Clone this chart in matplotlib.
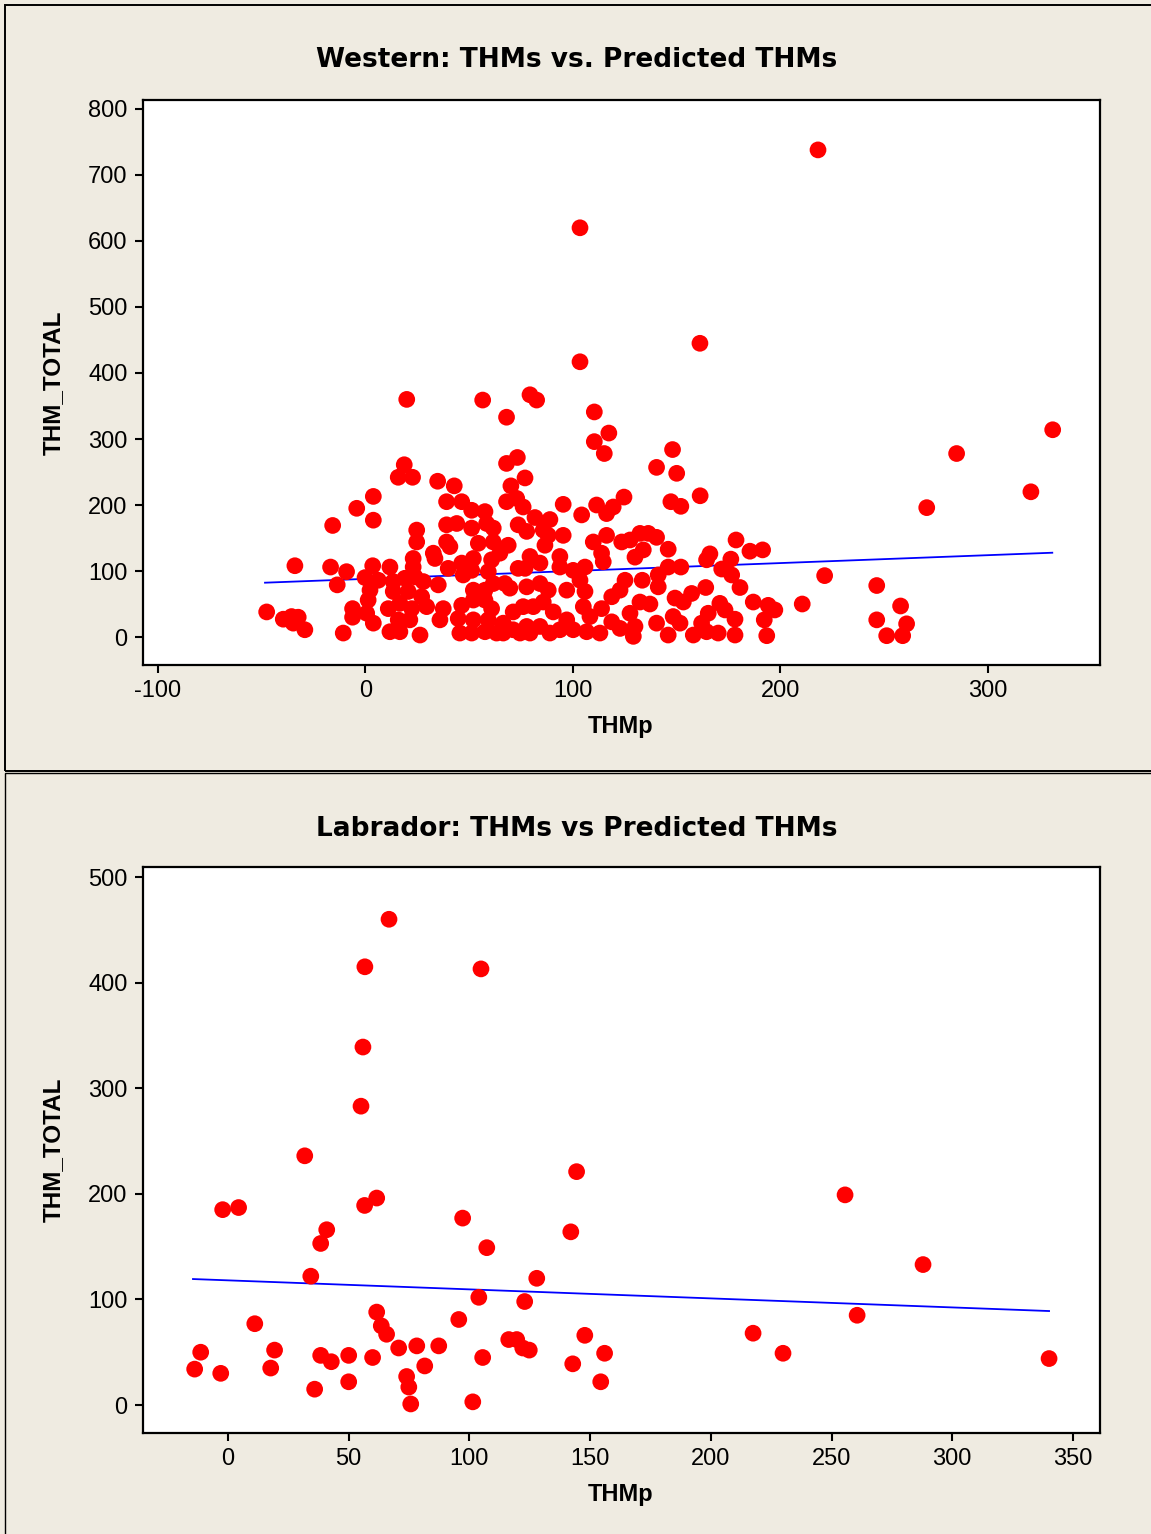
import matplotlib
matplotlib.use("Agg")
import matplotlib.pyplot as plt
from matplotlib.patches import Rectangle
import numpy as np

plt.rcParams["axes.unicode_minus"] = False

# ---------------- Western data ----------------
west_x = [218.1,103.4,103.4,161.2,331.2,284.9,320.7,270.5,19.9,56.5,79.3,82.5,68.0,110.3,117.3,110.3,115.1,148.0,
          140.3,150.0,161.3,147.2,152.0,221.3,246.4,246.4,257.9,260.8,251.2,258.9,210.5,194.1,197.3,192.2,193.4,186.9,185.3,191.4,
          68.0,73.2,76.9,18.7,15.8,22.7,34.8,42.8,70.1,
          3.8,-4.2,3.8,-15.8,-34.0,-16.8,-9.1,-13.6,3.5,-0.2,6.2,2.2,1.3,-47.6,-39.6,-35.6,-32.4,-34.8,-29.2,-10.7,-6.2,-6.2,0.6,3.8,
          39.1,46.4,51.2,57.6,24.7,24.7,39.1,44.0,51.2,58.4,61.6,54.4,61.6,39.1,40.7,32.7,33.5,23.0,23.0,11.8,
          39.9,46.4,52.0,51.2,47.1,60.8,59.2,13.4,19.0,23.9,27.9,35.1,13.4,20.6,27.1,52.0,57.6,61.6,11.0,16.6,
          22.3,29.5,37.5,46.4,52.0,57.6,60.8,15.8,21.4,35.9,44.7,52.0,59.2,11.8,16.6,26.3,45.5,51.2,57.6,63.2,
          68.0,72.9,76.0,95.3,111.4,119.4,124.6,104.2,81.7,88.9,73.6,77.7,85.7,88.1,95.3,109.8,116.2,123.5,68.8,86.5,
          113.8,114.6,93.7,79.3,84.1,64.8,73.6,76.9,93.7,100.1,105.8,67.2,69.6,77.7,84.1,88.1,97.0,103.4,105.8,118.7,
          122.7,125.1,71.2,76.0,80.9,85.7,90.5,97.0,105.0,108.2,113.8,118.7,122.7,66.4,71.2,77.7,84.1,88.9,93.7,100.1,
          106.6,113.0,66.4,74.5,79.3,116.2,
          132.3,136.3,140.3,127.5,133.9,129.9,145.9,178.6,166.0,164.4,176.1,145.9,152.0,171.7,176.5,180.5,133.4,141.1,141.1,164.0,
          157.2,149.2,153.2,132.3,137.1,127.5,170.8,173.3,165.2,178.1,148.3,151.6,140.3,162.0,164.4,170.0,145.9,158.0,178.1,129.9,
          129.1]
west_y = [738,620,417,445,314,278,220,196,360,359,367,359,333,341,309,296,278,284,
          257,248,214,205,198,93,78,26,47,20,2,2,50,48,41,26,2,53,130,132,
          263,272,241,261,242,242,236,229,229,
          213,195,177,169,108,106,99,79,108,90,86,71,56,38,27,31,30,21,11,6,43,30,36,21,
          205,205,192,190,162,144,170,172,165,172,165,142,144,144,137,127,119,119,106,106,
          104,112,119,101,94,117,99,84,89,91,84,79,69,69,61,71,71,81,43,51,
          43,46,43,48,56,56,43,26,26,26,28,26,26,8,8,3,6,6,8,6,
          205,210,197,201,200,197,212,185,181,178,170,160,162,154,154,144,154,144,139,139,
          127,114,122,122,112,127,104,104,106,101,106,81,74,76,81,71,71,86,69,61,
          71,86,38,46,46,53,38,26,46,31,43,23,13,21,11,16,16,6,11,11,
          8,6,6,6,6,187,
          157,157,151,147,132,121,133,147,126,117,118,106,106,103,94,75,86,94,76,75,
          66,59,53,53,50,36,51,41,36,27,31,21,21,21,8,6,3,3,3,16,
          1]
west_fit_x = [-48.4, 331.0]
west_fit_y = [82.3, 127.7]

# ---------------- Labrador data ----------------
lab_x = [-13.8,-11.3,-3.0,-2.2,4.4,11.1,17.7,19.3,31.8,34.3,35.9,38.4,38.4,40.9,42.8,50.0,50.0,55.1,55.9,56.7,
         56.6,61.6,59.9,61.6,63.5,65.7,66.7,70.7,74.0,74.9,75.7,78.2,81.5,87.3,95.6,97.2,101.4,103.9,104.8,105.5,
         107.2,116.3,119.6,122.1,122.9,124.8,127.9,142.0,142.8,144.4,147.8,154.4,156.0,217.5,229.9,255.6,260.6,287.9,340.1]
lab_y = [34,50,30,185,187,77,35,52,236,122,15,47,153,166,41,47,22,283,339,415,
         189,196,45,88,75,67,460,54,27,17,1,56,37,56,81,177,3,102,413,45,
         149,62,62,54,98,52,120,164,39,221,66,22,49,68,49,199,85,133,44]
lab_fit_x = [-14.5, 340.1]
lab_fit_y = [119.3, 89.0]

west_xticks = [-100, 0, 100, 200, 300]
west_yticks = [0, 100, 200, 300, 400, 500, 600, 700, 800]
lab_xticks = [0, 50, 100, 150, 200, 250, 300, 350]
lab_yticks = [0, 100, 200, 300, 400, 500]

W, H = 1151, 1534
BG = "#EFEBE1"
FONT = "Liberation Sans"

fig = plt.figure(figsize=(W / 100, H / 100), dpi=100)
fig.patch.set_facecolor(BG)

def fx(px):
    return px / W

def fy(py):
    return 1 - py / H

# panel borders
fig.add_artist(Rectangle((fx(4.5), fy(770.5)), 1.1, fy(5) - fy(770.5), transform=fig.transFigure,
                         facecolor="none", edgecolor="black", lw=1.4))
fig.add_artist(Rectangle((fx(4.5), fy(1600)), 1.1, fy(773.5) - fy(1600), transform=fig.transFigure,
                         facecolor="none", edgecolor="black", lw=1.0))

def make_axes(top, bottom, x, y, fitx, fity, xlim, ylim, xticks, yticks, title, ty, xly, yly):
    ax = fig.add_axes([fx(143), fy(bottom), fx(1100) - fx(143), fy(top) - fy(bottom)])
    ax.set_facecolor("white")
    ax.scatter(x, y, s=145, c="#FF0000", edgecolors="none", zorder=3)
    ax.plot(fitx, fity, color="#0000FF", lw=1.3, zorder=2)
    ax.set_xlim(*xlim)
    ax.set_ylim(*ylim)
    ax.set_xticks(xticks)
    ax.set_yticks(yticks)
    ax.tick_params(direction="out", length=6, width=1.5, labelsize=17, pad=5,
                   top=False, right=False, colors="black")
    for lab in ax.get_xticklabels() + ax.get_yticklabels():
        lab.set_fontfamily(FONT)
    for sp in ax.spines.values():
        sp.set_linewidth(1.6)
        sp.set_color("black")
    fig.text(fx(577), fy(ty), title, ha="center", va="center", fontsize=19, fontweight="bold",
             family="DejaVu Sans")
    fig.text(fx(621), fy(xly), "THMp", ha="center", va="center", fontsize=17, fontweight="bold",
             family=FONT)
    fig.text(fx(53), fy(yly), "THM_TOTAL", ha="center", va="center", rotation=90, fontsize=17.5,
             fontweight="bold", family=FONT)
    return ax

make_axes(100, 665, west_x, west_y, west_fit_x, west_fit_y, (-107.2, 354.0), (-42.4, 813.6),
          west_xticks, west_yticks, "Western: THMs vs. Predicted THMs", 60, 727, 383)
make_axes(867, 1433, lab_x, lab_y, lab_fit_x, lab_fit_y, (-35.2, 361.2), (-26.5, 509.5),
          lab_xticks, lab_yticks, "Labrador: THMs vs Predicted THMs", 829, 1495, 1150)

fig.savefig("out.png", dpi=100, facecolor=BG)
